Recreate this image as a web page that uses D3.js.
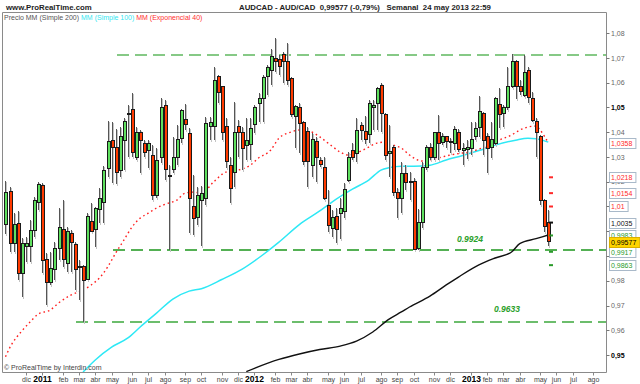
<!DOCTYPE html>
<html>
<head>
<meta charset="utf-8">
<script src="https://cdn.jsdelivr.net/npm/d3@7"></script>
<style>
body{margin:0;background:#fff;}
svg{display:block;font-family:"Liberation Sans",Arial,sans-serif;}
</style>
</head>
<body>
<svg id="chart" width="640" height="384"></svg>
<script>
// weekly bars, the first one is the week of 1 nov 2010
var firstWeek = new Date(2010, 10, 1);

var opens = [1.0029,1.0162,0.9952,1.0033,0.9831,0.9940,0.9940,1.0005,1.0118,1.0183,
  0.9884,0.9791,0.9847,0.9932,1.0009,0.9871,0.9989,0.9948,0.9859,0.9859,
  0.9807,1.0041,1.0009,1.0086,1.0118,1.0255,1.0368,1.0340,1.0247,1.0368,
  1.0473,1.0490,1.0300,1.0397,1.0356,1.0328,1.0308,1.0146,1.0296,1.0510,
  1.0227,1.0251,1.0296,1.0376,1.0453,1.0393,1.0098,1.0057,1.0126,1.0134,
  1.0425,1.0425,1.0627,1.0583,1.0425,1.0267,1.0239,1.0425,1.0401,1.0348,
  1.0352,1.0433,1.0518,1.0538,1.0627,1.0651,1.0696,1.0692,1.0716,1.0684,
  1.0619,1.0465,1.0498,1.0441,1.0405,1.0267,1.0364,1.0284,1.0259,1.0106,
  1.0013,1.0061,1.0073,1.0078,1.0207,1.0328,1.0316,1.0429,1.0405,1.0389,
  1.0502,1.0518,1.0587,1.0473,1.0316,1.0340,1.0158,1.0134,1.0235,1.0199,
  1.0199,0.9930,1.0037,1.0259,1.0340,1.0296,1.0397,1.0360,1.0381,1.0364,
  1.0356,1.0401,1.0328,1.0332,1.0336,1.0381,1.0421,1.0477,1.0381,1.0340,
  1.0356,1.0514,1.0477,1.0502,1.0583,1.0684,1.0583,1.0550,1.0651,1.0538,
  1.0445,1.0381,1.0126,1.0037];
var highs = [1.0203,1.0179,1.0073,1.0082,0.9972,0.9977,1.0045,1.0138,1.0199,1.0195,
  0.9912,0.9916,0.9956,1.0094,1.0126,1.0017,1.0005,0.9956,0.9884,0.9863,
  1.0073,1.0114,1.0098,1.0174,1.0263,1.0445,1.0441,1.0413,1.0421,1.0457,
  1.0510,1.0558,1.0421,1.0409,1.0368,1.0368,1.0348,1.0336,1.0538,1.0530,
  1.0267,1.0381,1.0429,1.0494,1.0514,1.0417,1.0227,1.0179,1.0183,1.0461,
  1.0461,1.0663,1.0631,1.0587,1.0457,1.0300,1.0522,1.0449,1.0421,1.0457,
  1.0457,1.0510,1.0558,1.0631,1.0671,1.0736,1.0780,1.0712,1.0724,1.0760,
  1.0623,1.0510,1.0518,1.0445,1.0421,1.0397,1.0381,1.0300,1.0300,1.0166,
  1.0086,1.0094,1.0134,1.0195,1.0320,1.0356,1.0457,1.0441,1.0465,1.0530,
  1.0530,1.0583,1.0599,1.0477,1.0429,1.0348,1.0174,1.0280,1.0267,1.0239,
  1.0215,1.0090,1.0280,1.0348,1.0356,1.0401,1.0469,1.0397,1.0385,1.0376,
  1.0425,1.0413,1.0356,1.0368,1.0441,1.0441,1.0546,1.0482,1.0397,1.0441,
  1.0542,1.0578,1.0510,1.0663,1.0716,1.0692,1.0611,1.0712,1.0663,1.0562,
  1.0457,1.0389,1.0130,1.0086];
var lows = [0.9989,0.9916,0.9916,0.9803,0.9734,0.9876,0.9876,0.9977,1.0086,0.9831,
  0.9702,0.9783,0.9803,0.9884,0.9855,0.9835,0.9835,0.9762,0.9722,0.9633,
  0.9803,0.9997,0.9936,1.0033,1.0033,1.0219,1.0195,1.0191,1.0219,1.0247,
  1.0300,1.0300,1.0288,1.0235,1.0300,1.0255,1.0126,1.0134,1.0275,1.0207,
  0.9924,1.0235,1.0267,1.0356,1.0409,0.9993,0.9985,1.0025,0.9940,1.0106,
  1.0368,1.0368,1.0518,1.0368,1.0255,1.0114,1.0179,1.0300,1.0247,1.0288,
  1.0288,1.0397,1.0441,1.0441,1.0550,1.0591,1.0643,1.0631,1.0599,1.0591,
  1.0461,1.0336,1.0316,1.0267,1.0179,1.0219,1.0199,1.0259,1.0126,0.9997,
  0.9977,0.9952,0.9968,1.0053,1.0199,1.0288,1.0280,1.0368,1.0352,1.0356,
  1.0409,1.0409,1.0401,1.0288,1.0219,1.0142,1.0053,1.0073,1.0166,1.0126,
  0.9924,0.9924,1.0013,1.0247,1.0288,1.0288,1.0288,1.0348,1.0336,1.0316,
  1.0328,1.0320,1.0267,1.0292,1.0308,1.0368,1.0381,1.0308,1.0235,1.0296,
  1.0348,1.0417,1.0421,1.0490,1.0578,1.0534,1.0550,1.0542,1.0518,1.0441,
  1.0300,1.0106,0.9997,0.9940];
var closes = [1.0158,0.9952,1.0029,0.9831,0.9952,0.9952,1.0005,1.0126,1.0187,0.9880,
  0.9791,0.9851,0.9932,1.0017,0.9884,1.0001,0.9956,0.9847,0.9855,0.9803,
  1.0061,1.0001,1.0090,1.0134,1.0247,1.0364,1.0340,1.0239,1.0381,1.0445,
  1.0477,1.0320,1.0401,1.0368,1.0320,1.0356,1.0146,1.0284,1.0502,1.0251,
  1.0223,1.0300,1.0372,1.0486,1.0433,1.0134,1.0053,1.0146,1.0154,1.0437,
  1.0441,1.0611,1.0562,1.0401,1.0280,1.0174,1.0397,1.0401,1.0336,1.0368,
  1.0417,1.0502,1.0538,1.0623,1.0663,1.0708,1.0684,1.0667,1.0684,1.0611,
  1.0473,1.0506,1.0437,1.0280,1.0280,1.0372,1.0296,1.0271,1.0134,1.0025,
  1.0057,1.0009,1.0090,1.0170,1.0300,1.0296,1.0409,1.0409,1.0372,1.0518,
  1.0510,1.0578,1.0477,1.0308,1.0324,1.0158,1.0134,1.0235,1.0195,1.0195,
  0.9928,1.0037,1.0259,1.0340,1.0296,1.0397,1.0356,1.0381,1.0364,1.0360,
  1.0413,1.0332,1.0336,1.0340,1.0372,1.0417,1.0482,1.0368,1.0336,1.0372,
  1.0538,1.0473,1.0502,1.0583,1.0684,1.0583,1.0566,1.0643,1.0542,1.0449,
  1.0397,1.0126,1.0021,0.99577];

// moving averages, [week index, value]
var sma200 = [[59,0.9433],[67,0.9482],[72,0.9504],[77,0.9522],[82,0.9536],[86,0.9556],
  [90,0.9593],[94,0.9645],[97,0.9674],[99,0.9694],[104,0.9738],[108,0.9783],[111,0.9815],
  [116,0.9864],[120,0.9892],[124,0.9916],[126,0.9950],[130,0.9970],[133,0.9985]];
var sma100 = [[19,0.9431],[22,0.9480],[26,0.9532],[30,0.9569],[33,0.9613],[37,0.9669],
  [41,0.9726],[45,0.9758],[48,0.9768],[53,0.9805],[58,0.9847],[63,0.9904],[67,0.9956],
  [72,1.0027],[77,1.0082],[80,1.0118],[85,1.0170],[89,1.0207],[92,1.0247],[94,1.0257],
  [97,1.0263],[100,1.0263],[104,1.0267],[108,1.0288],[112,1.0306],[116,1.0326],
  [120,1.0348],[125,1.0368],[128,1.0376],[130,1.0374],[133,1.0360]];
var ema40 = [[0,0.9493],[1,0.9528],[4,0.9597],[6,0.9633],[8,0.9665],[11,0.9682],[13,0.9710],
  [16,0.9742],[19,0.9762],[21,0.9783],[23,0.9811],[25,0.9855],[27,0.9912],[29,0.9964],
  [31,1.0017],[33,1.0053],[35,1.0073],[37,1.0094],[40,1.0114],[42,1.0126],[44,1.0154],
  [46,1.0158],[48,1.0154],[51,1.0199],[54,1.0239],[57,1.0247],[60,1.0267],[62,1.0296],
  [65,1.0328],[67,1.0376],[70,1.0401],[72,1.0409],[75,1.0401],[77,1.0381],[80,1.0344],
  [82,1.0320],[84,1.0308],[86,1.0316],[89,1.0340],[91,1.0356],[93,1.0360],[95,1.0348],
  [97,1.0336],[99,1.0308],[102,1.0284],[104,1.0288],[107,1.0300],[109,1.0308],[112,1.0316],
  [114,1.0320],[116,1.0332],[119,1.0348],[121,1.0368],[124,1.0389],[126,1.0409],[128,1.0421],
  [130,1.0425],[131,1.0409],[132,1.0385],[133,1.0358]];

// horizontal levels and the week they start from
var levels = [1.0712, 0.9924, 0.9633];
var levelStart = [28, 27, 18];
var levelText = ['', '0.9924', '0.9633'];

// pivot levels of next week
var pivots = [1.0218, 1.0154, 1.0100, 1.0035, 0.9983, 0.9917, 0.9863];
var pivotKind = ['r', 'r', 'r', 'p', 's', 's', 's'];

// value tags on the price axis
var tagValues = [1.0218, 1.0154, 1.0100, 1.0358, 1.0035, 0.9863, 0.9917, 0.9983, 0.99577];
var tagTexts = ['1,0218', '1,0154', '1,01', '1,0358', '1,0035', '0,9863', '0,9917', '0,9983', '0,99577'];
var tagKind = ['r', 'r', 'r', 'r', 'p', 's', 's', 's', 'last'];

// axis prices that sit fully under a tag are not drawn
var yTicks = [0.95, 0.96, 0.97, 0.98, 1.01, 1.02, 1.03, 1.04, 1.05, 1.06, 1.07, 1.08];

var monthNames = ['ene','feb','mar','abr','may','jun','jul','ago','sep','oct','nov','dic'];

var svg = d3.select('#chart');
var L = 2.5, R = 606.5, T = 12.5, B = 372.5;

var x = d3.scaleTime()
  .domain([new Date(2010, 9, 26), new Date(2013, 7, 27)])
  .range([2, 606]);
var y = d3.scaleLinear().domain([0.95, 1.08]).range([355, 33.25]);

function wk(i){ return d3.timeDay.offset(firstWeek, i * 7); }
function cx(i){ return Math.round(x(wk(i))); }

svg.append('clipPath').attr('id', 'plot')
  .append('rect').attr('x', L).attr('y', T).attr('width', R - L).attr('height', B - T);

var kindColor = {r: '#ff2a2a', p: '#111', s: '#2a9a2a', last: '#000'};

// header
svg.append('text').attr('x', 6).attr('y', 9.5)
  .attr('font-size', 7.8).attr('font-weight', 'bold').attr('fill', '#222')
  .text('www.ProRealTime.com');
svg.append('text').attr('x', 239).attr('y', 9.5)
  .attr('font-size', 7.8).attr('font-weight', 'bold').attr('fill', '#222')
  .attr('xml:space', 'preserve')
  .text('AUDCAD - AUD/CAD  0,99577 (-0,79%)   Semanal  24 may 2013 22:59');

var leg = svg.append('text').attr('x', 4).attr('y', 19.5).attr('font-size', 7);
leg.append('tspan').attr('fill', '#555').text('Precio MM (Simple 200) ');
leg.append('tspan').attr('fill', '#33e6f0').text('MM (Simple 100) ');
leg.append('tspan').attr('fill', '#ff3030').text('MM (Exponencial 40)');

var plot = svg.append('g').attr('clip-path', 'url(#plot)');

// support / resistance lines
var levelColor = ['#86c986', '#1d961d', '#6cbd6c'];
var levelWidth = [2, 1.5, 2];
levels.forEach(function(v, k){
  plot.append('line')
    .attr('x1', cx(levelStart[k]) - 3).attr('x2', R)
    .attr('y1', y(v)).attr('y2', y(v))
    .attr('stroke', levelColor[k]).attr('stroke-width', levelWidth[k])
    .attr('stroke-dasharray', '12,6');
});
svg.append('text').attr('x', 470).attr('y', y(levels[1]) - 8)
  .attr('text-anchor', 'middle').attr('font-size', 8.5).attr('font-weight', 'bold')
  .attr('font-style', 'italic').attr('fill', '#2aa02a').text(levelText[1]);
svg.append('text').attr('x', 507).attr('y', y(levels[2]) - 10)
  .attr('text-anchor', 'middle').attr('font-size', 8.5).attr('font-weight', 'bold')
  .attr('font-style', 'italic').attr('fill', '#2aa02a').text(levelText[2]);

// moving averages
var maLine = d3.line()
  .x(function(d){ return x(wk(d[0])); })
  .y(function(d){ return y(d[1]); })
  .curve(d3.curveMonotoneX);
plot.append('path').datum(sma100).attr('d', maLine)
  .attr('fill', 'none').attr('stroke', '#2ee8f5').attr('stroke-width', 1.5);
plot.append('path').datum(sma200).attr('d', maLine)
  .attr('fill', 'none').attr('stroke', '#111').attr('stroke-width', 1.4);
plot.append('path').datum(ema40).attr('d', maLine)
  .attr('fill', 'none').attr('stroke', '#ff1f1f').attr('stroke-width', 1.4)
  .attr('stroke-dasharray', '1.6,3');

// candles
var bars = opens.map(function(o, i){
  return {i: i, o: o, h: highs[i], l: lows[i], c: closes[i]};
});
var g = plot.append('g').attr('shape-rendering', 'crispEdges');
var cg = g.selectAll('g').data(bars).enter().append('g');
cg.append('line')
  .attr('x1', function(d){ return cx(d.i) + 1.5; })
  .attr('x2', function(d){ return cx(d.i) + 1.5; })
  .attr('y1', function(d){ return y(d.h) + 1; })
  .attr('y2', function(d){ return y(d.l) + 2; })
  .attr('stroke', '#c4c4c4').attr('stroke-width', 1);
cg.append('line')
  .attr('x1', function(d){ return cx(d.i) + 0.5; })
  .attr('x2', function(d){ return cx(d.i) + 0.5; })
  .attr('y1', function(d){ return y(d.h); })
  .attr('y2', function(d){ return y(d.l); })
  .attr('stroke', '#555').attr('stroke-width', 1);
cg.append('rect')
  .attr('x', function(d){ return cx(d.i) - 1; })
  .attr('width', 3)
  .attr('y', function(d){ return y(Math.max(d.o, d.c)); })
  .attr('height', function(d){ return Math.max(1, Math.abs(y(d.o) - y(d.c))); })
  .attr('fill', function(d){ return d.c >= d.o ? '#5fe05f' : '#ff3a00'; })
  .attr('stroke', '#1a1a1a').attr('stroke-width', 1);

// pivot marks next to the last bar
var last = opens.length - 1;
plot.selectAll('.piv').data(pivots).enter().append('rect')
  .attr('x', cx(last) + 1).attr('width', 4)
  .attr('y', function(v){ return y(v) - 1; }).attr('height', 2)
  .attr('fill', function(v, k){ return kindColor[pivotKind[k]]; });

// frame
svg.append('path')
  .attr('d', 'M' + L + ',' + B + 'V' + T + 'H' + R + 'V' + B + 'H' + L)
  .attr('fill', 'none').attr('stroke', '#8a8a8a').attr('stroke-width', 1);

svg.append('text').attr('x', 4).attr('y', 369.5).attr('font-size', 7).attr('fill', '#444')
  .text('\u00a9 ProRealTime by Interdin.com');

// price axis
var ya = svg.append('g');
ya.selectAll('line').data(d3.range(95, 109)).enter().append('line')
  .attr('x1', R).attr('x2', R + 3)
  .attr('y1', function(n){ return Math.round(y(n / 100)) + 0.5; })
  .attr('y2', function(n){ return Math.round(y(n / 100)) + 0.5; })
  .attr('stroke', '#777');
ya.selectAll('text').data(yTicks).enter().append('text')
  .attr('x', 611).attr('y', function(v){ return y(v) + 2.5; })
  .attr('font-size', 7)
  .attr('font-weight', function(v){ return Math.round(v * 100) % 5 === 0 ? 'bold' : 'normal'; })
  .attr('fill', function(v){ return Math.round(v * 100) % 5 === 0 ? '#000' : '#666'; })
  .text(function(v){ return d3.format('.2f')(v).replace('.', ','); });

// value tags
var tg = svg.append('g').selectAll('g').data(tagValues).enter().append('g');
tg.append('rect')
  .attr('x', 609.5)
  .attr('y', function(v){ return Math.round(y(v)) - 4.5; })
  .attr('width', function(v, k){ return tagTexts[k].length * 3.9 + 3; })
  .attr('height', 10)
  .attr('fill', function(v, k){ return tagKind[k] === 'last' ? '#ffd400' : '#fff'; })
  .attr('stroke', function(v, k){ return tagKind[k] === 'last' ? '#d9b000' : '#a9b9c9'; });
tg.append('text')
  .attr('x', 611).attr('y', function(v){ return Math.round(y(v)) + 3; })
  .attr('font-size', 7)
  .attr('fill', function(v, k){ return kindColor[tagKind[k]]; })
  .text(function(v, k){ return tagTexts[k]; });

// time axis, labels on the first weekly bar of every month
var months = d3.timeMonth.range(new Date(2010, 11, 1), new Date(2013, 8, 1));
var xa = svg.append('g');
months.forEach(function(m){
  var px = Math.round(x(d3.timeMonday.ceil(m))) + 0.5;
  xa.append('line').attr('x1', px).attr('x2', px).attr('y1', B).attr('y2', B + 3)
    .attr('stroke', '#888');
  var jan = m.getMonth() === 0;
  xa.append('text').attr('x', px).attr('y', 382)
    .attr('text-anchor', 'middle')
    .attr('font-size', jan ? 8.5 : 7)
    .attr('font-weight', jan ? 'bold' : 'normal')
    .attr('fill', jan ? '#000' : '#444')
    .text(jan ? m.getFullYear() : monthNames[m.getMonth()]);
});
</script>
</body>
</html>
